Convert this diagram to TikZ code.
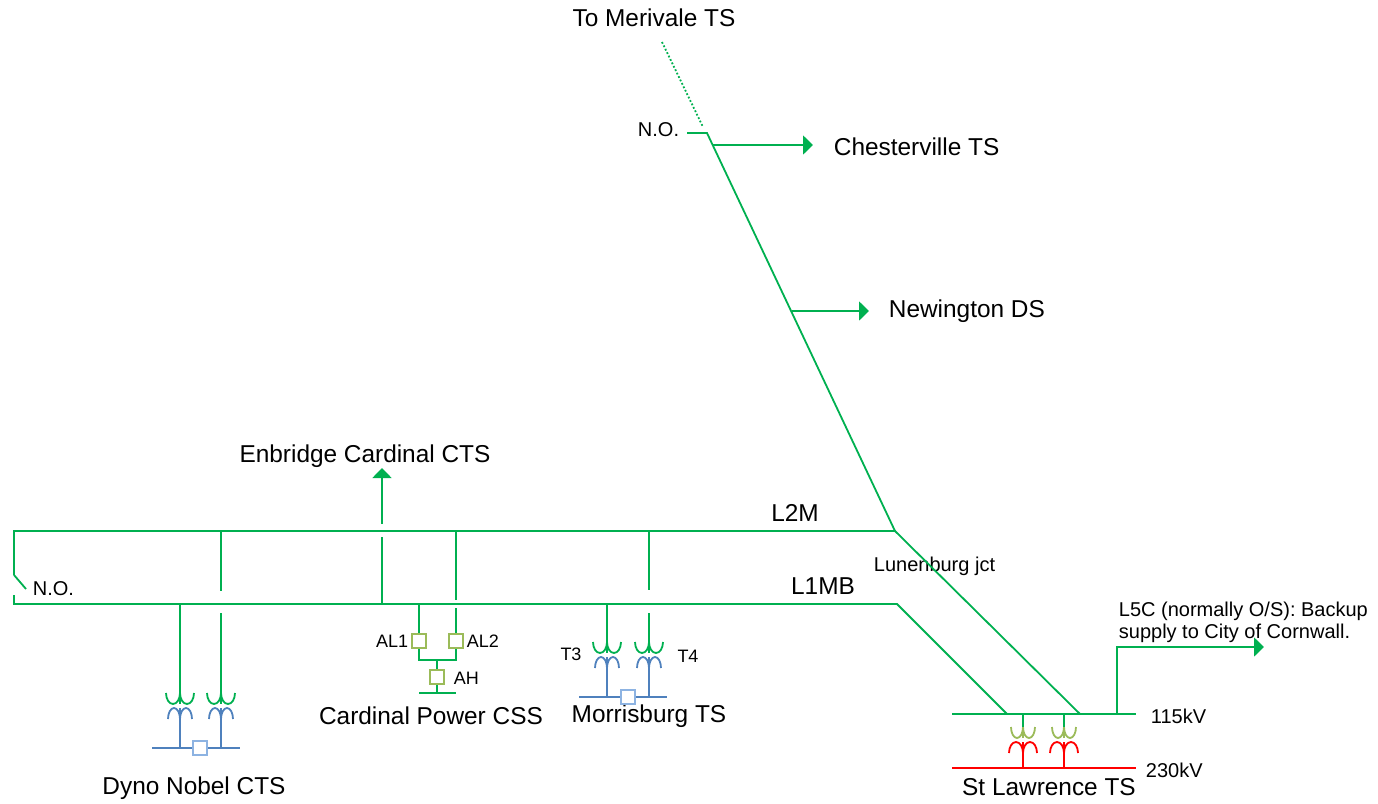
\documentclass[tikz,border=0pt]{standalone}
\usepackage{fontspec}
\setmainfont{Liberation Sans}
\usetikzlibrary{arrows.meta}

\definecolor{feedgreen}{HTML}{00B050}
\definecolor{lvblue}{HTML}{4F81BD}
\definecolor{brkblue}{HTML}{8DB3E2}
\definecolor{brkolive}{HTML}{9BBB59}
\definecolor{hvred}{HTML}{FF0000}

\begin{document}
\begin{tikzpicture}[x=0.5pt,y=-0.5pt,line width=0.9pt,
    feed/.style={feedgreen},
    feedarrow/.style={feedgreen,-{Triangle[length=5pt,width=9.5pt]}},
    lv/.style={lvblue},
    hv/.style={hvred},
    bigtxt/.style={font=\fontsize{12.2}{14}\selectfont,inner sep=0pt},
    smalltxt/.style={font=\fontsize{10}{11}\selectfont,inner sep=0pt},
    tinytxt/.style={font=\fontsize{9}{10}\selectfont,inner sep=0pt},
    brk/.style={draw=#1,fill=white,line width=1.1pt,minimum size=7pt,inner sep=0pt},
    pics/xfmr/.style n args={4}{code={
      \coordinate (-hi) at (0,0);
      \coordinate (-lo) at (0,26);
      \draw[#1] (0,0) -- (0,11);
      \draw[#1] (-2*#3,0) arc[start angle=180,end angle=360,x radius=#3*0.5pt,y radius=5.5pt]
        arc[start angle=180,end angle=360,x radius=#3*0.5pt,y radius=5.5pt];
      \draw[#2] (0,15) -- (0,26);
      \draw[#2] (-2*#4,26) arc[start angle=180,end angle=0,x radius=#4*0.5pt,y radius=5.5pt]
        arc[start angle=180,end angle=0,x radius=#4*0.5pt,y radius=5.5pt];
    }}]

  \useasboundingbox (0,0) rectangle (1378,804);

  % labels
  \node[bigtxt] (merivale) at (654,18) {To Merivale TS};
  \node[bigtxt,anchor=west] (chesterville) at (833,147) {Chesterville TS};
  \node[bigtxt,anchor=west] (newington) at (888,311) {Newington DS};
  \node[bigtxt] (enbridge) at (365,456) {Enbridge Cardinal CTS};
  \node[bigtxt] (l2m) at (795,513) {L2M};
  \node[bigtxt] (l1mb) at (823,586) {L1MB};
  \node[smalltxt,anchor=west] (lunenburg) at (873,566) {Lunenburg jct};
  \node[smalltxt,anchor=east] (notop) at (680,130) {N.O.};
  \node[smalltxt,anchor=west] (noleft) at (32,589) {N.O.};
  \node[smalltxt,anchor=west,align=left] (l5c) at (1118,622)
    {L5C (normally O/S): Backup\\supply to City of Cornwall.};
  \node[smalltxt,anchor=west] (kv115) at (1150,716) {115kV};
  \node[smalltxt,anchor=west] (kv230) at (1145,770) {230kV};
  \node[bigtxt] (stlawrence) at (1049,787) {St Lawrence TS};
  \node[bigtxt] (dyno) at (194,788) {Dyno Nobel CTS};
  \node[bigtxt] (cardinal) at (431,716) {Cardinal Power CSS};
  \node[bigtxt] (morrisburg) at (649,716) {Morrisburg TS};
  \node[tinytxt] (t3) at (571,654) {T3};
  \node[tinytxt] (t4) at (688,656) {T4};

  % Merivale line to Lunenburg jct
  \coordinate (mervA) at (662,42);  \coordinate (mervB) at (703,127);
  \coordinate (noA) at (687,133);   \coordinate (noB) at (707,133);
  \coordinate (chesJ) at (713,145); \coordinate (chesT) at (813,145);
  \coordinate (newJ) at (792,311);  \coordinate (newT) at (869,311);
  \coordinate (lunJ) at (895,531);  \coordinate (l1mbJ) at (897,604);
  \draw[feed,densely dotted] (mervA) -- (mervB);
  \draw[feed] (noA) -- (noB) -- (lunJ);
  \draw[feedarrow] (chesJ) -- (chesT);
  \draw[feedarrow] (newJ) -- (newT);

  % L2M and L1MB
  \coordinate (l2mW) at (14,531);   \coordinate (l1mbW) at (14,604);
  \coordinate (swTop) at (14,575);  \coordinate (swBlade) at (26,589);
  \coordinate (swBot) at (14,595);
  \coordinate (slA) at (1007,714);  \coordinate (slB) at (1080,714);
  \draw[feed] (swTop) -- (l2mW) -- (lunJ) -- (slB);
  \draw[feed] (swBot) -- (l1mbW) -- (l1mbJ) -- (slA);
  \draw[feed] (swTop) -- (swBlade);

  % St Lawrence TS
  \coordinate (b115W) at (952,714); \coordinate (b115E) at (1136,714);
  \coordinate (b230W) at (952,768); \coordinate (b230E) at (1136,768);
  \draw[feed] (b115W) -- (b115E);
  \draw[hv] (b230W) -- (b230E);
  \pic (sl1) at (1023,727) {xfmr={brkolive}{hvred}{6}{7}};
  \pic (sl2) at (1064,727) {xfmr={brkolive}{hvred}{6}{7}};
  \draw[feed] (sl1-hi |- b115W) -- (sl1-hi);
  \draw[feed] (sl2-hi |- b115W) -- (sl2-hi);
  \draw[hv] (sl1-lo) -- (sl1-lo |- b230W);
  \draw[hv] (sl2-lo) -- (sl2-lo |- b230W);

  % L5C
  \coordinate (l5cJ) at (1117,714); \coordinate (l5cC) at (1117,647);
  \coordinate (l5cT) at (1264,647);
  \draw[feedarrow] (l5cJ) -- (l5cC) -- (l5cT);

  % Enbridge Cardinal CTS
  \coordinate (enbA) at (382,604); \coordinate (enbB) at (382,537);
  \coordinate (enbC) at (382,524); \coordinate (enbT) at (382,468);
  \draw[feed] (enbA) -- (enbB);
  \draw[feedarrow] (enbC) -- (enbT);

  % Dyno Nobel CTS
  \pic (dn1) at (180,693) {xfmr={feedgreen}{lvblue}{7}{6}};
  \pic (dn2) at (221,693) {xfmr={feedgreen}{lvblue}{7}{6}};
  \coordinate (dnA) at (221,531); \coordinate (dnB) at (221,591);
  \coordinate (dnC) at (221,613);
  \coordinate (dnbusW) at (152,748); \coordinate (dnbusE) at (240,748);
  \draw[feed] (dn1-hi |- l1mbW) -- (dn1-hi);
  \draw[feed] (dnA) -- (dnB);
  \draw[feed] (dnC) -- (dn2-hi);
  \draw[lv] (dnbusW) -- (dnbusE);
  \draw[lv] (dn1-lo) -- (dn1-lo |- dnbusW);
  \draw[lv] (dn2-lo) -- (dn2-lo |- dnbusW);
  \node[brk=brkblue] (dnbrk) at (200,748) {};

  % Cardinal Power CSS
  \coordinate (al1) at (419,641); \coordinate (al2) at (456,641);
  \coordinate (ah) at (437,677);
  \coordinate (cpA) at (456,531); \coordinate (cpB) at (456,600);
  \coordinate (cpC) at (456,608);
  \coordinate (cpL) at (419,660); \coordinate (cpR) at (456,660);
  \coordinate (cpM) at (437,660);
  \coordinate (cpbusW) at (419,693); \coordinate (cpbusE) at (456,693);
  \draw[feed] (al1 |- l1mbW) -- (al1);
  \draw[feed] (cpA) -- (cpB);
  \draw[feed] (cpC) -- (al2);
  \draw[feed] (al1) -- (cpL) -- (cpR) -- (al2);
  \draw[feed] (cpM) -- (ah);
  \draw[feed] (ah) -- (ah |- cpbusW);
  \draw[feed] (cpbusW) -- (cpbusE);
  \node[brk=brkolive] (al1brk) at (al1) {};
  \node[brk=brkolive] (al2brk) at (al2) {};
  \node[brk=brkolive] (ahbrk) at (ah) {};
  \node[tinytxt,anchor=east] (al1txt) at (409,641) {AL1};
  \node[tinytxt,anchor=west] (al2txt) at (466,641) {AL2};
  \node[tinytxt,anchor=west] (ahtxt) at (453,678) {AH};

  % Morrisburg TS
  \pic (mb1) at (607,642) {xfmr={feedgreen}{lvblue}{7}{6}};
  \pic (mb2) at (649,642) {xfmr={feedgreen}{lvblue}{7}{6}};
  \coordinate (mbA) at (649,531); \coordinate (mbB) at (649,590);
  \coordinate (mbC) at (649,613);
  \coordinate (mbbusW) at (579,697); \coordinate (mbbusE) at (667,697);
  \draw[feed] (mb1-hi |- l1mbW) -- (mb1-hi);
  \draw[feed] (mbA) -- (mbB);
  \draw[feed] (mbC) -- (mb2-hi);
  \draw[lv] (mbbusW) -- (mbbusE);
  \draw[lv] (mb1-lo) -- (mb1-lo |- mbbusW);
  \draw[lv] (mb2-lo) -- (mb2-lo |- mbbusW);
  \node[brk=brkblue] (mbbrk) at (628,697) {};
\end{tikzpicture}
\end{document}
